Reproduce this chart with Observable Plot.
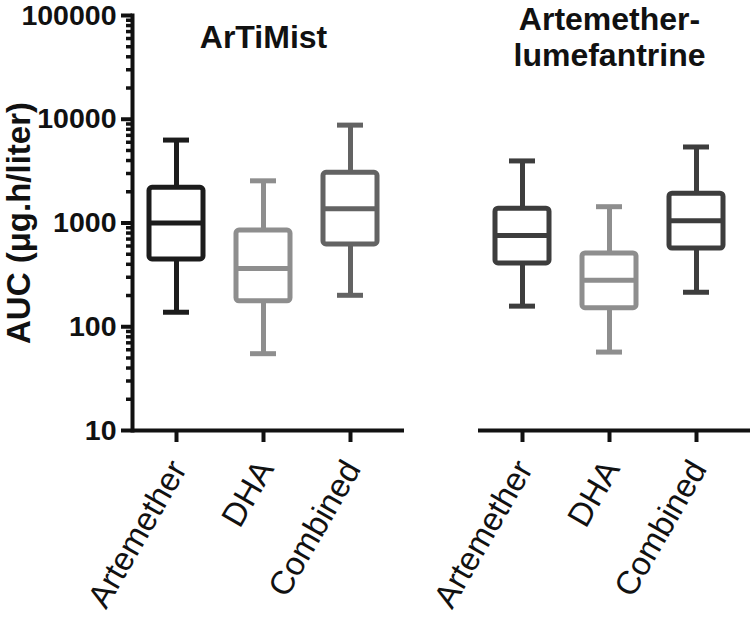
<!DOCTYPE html>
<html>
<head>
<meta charset="utf-8">
<script src="https://cdn.jsdelivr.net/npm/d3@7"></script>
<script src="https://cdn.jsdelivr.net/npm/@observablehq/plot@0.6"></script>
<style>
  html, body { margin: 0; padding: 0; background: #fff; }
  #chart { width: 750px; height: 620px; }
</style>
</head>
<body>
<div id="chart"></div>
<script>
// ---- data ----
const panels = ["ArTiMist", "Artemether-lumefantrine"];
const panelTitles = ["ArTiMist", "Artemether-\nlumefantrine"];
const analytes = ["Artemether", "DHA", "Combined"];

const boxPanel   = ["ArTiMist", "ArTiMist", "ArTiMist", "Artemether-lumefantrine", "Artemether-lumefantrine", "Artemether-lumefantrine"];
const boxAnalyte = ["Artemether", "DHA", "Combined", "Artemether", "DHA", "Combined"];
const whiskerLow  = [138, 55, 201, 158, 57, 215];
const q1          = [446, 176, 621, 408, 151, 568];
const median      = [1000, 365, 1374, 757, 280, 1054];
const q3          = [2185, 846, 3042, 1374, 509, 1914];
const whiskerHigh = [6300, 2550, 8780, 3966, 1436, 5404];
const boxColor    = ["#1c1c1c", "#8e8e8e", "#636363", "#3d3d3d", "#8e8e8e", "#3d3d3d"];

const yTicks = [10, 100, 1000, 10000, 100000];
const yLabel = "AUC (\u03bcg.h/liter)";

// ---- build table ----
const boxes = boxPanel.map((p, i) => ({
  panel: p, analyte: boxAnalyte[i],
  low: whiskerLow[i], q1: q1[i], median: median[i], q3: q3[i], high: whiskerHigh[i],
  color: boxColor[i]
}));
const titles = panels.map((p, i) => ({panel: p, title: panelTitles[i], analyte: "DHA"}));
const minorTicks = yTicks.slice(0, -1).flatMap(d => d3.range(2, 10).map(k => k * d));

const font = "'Liberation Sans', Arial, Helvetica, sans-serif";
const SW = 5;

const chart = Plot.plot({
  width: 750,
  height: 620,
  marginLeft: 131,
  marginRight: 0,
  marginTop: 15,
  marginBottom: 190,
  style: {fontFamily: font, background: "white", color: "#111"},
  fx: {domain: panels, paddingInner: 0.214, paddingOuter: 0, axis: null, label: null},
  x: {domain: analytes, paddingInner: 0.375, paddingOuter: 0.233, align: 0.4, label: null},
  y: {type: "log", domain: [10, 100000], label: null},
  marks: [
    // y axis: minor ticks, major ticks + labels, axis line
    Plot.axisY(minorTicks, {tickSize: 6, tickFormat: () => "", strokeWidth: 3.5, stroke: "#111", label: null}),
    Plot.axisY(yTicks, {tickSize: 11, tickPadding: 5, tickFormat: d => String(d), fontSize: 28.5, fontWeight: "bold", strokeWidth: 4, stroke: "#111", fill: "#111", label: null}),
    Plot.frame({anchor: "left", facetAnchor: "left", stroke: "#111", strokeWidth: 4}),
    // x axis per facet: line, ticks, rotated labels
    Plot.ruleY([10], {stroke: "#111", strokeWidth: 4}),
    Plot.axisX({tickSize: 12, tickFormat: () => "", strokeWidth: 4, stroke: "#111", label: null}),
    Plot.axisX({tickSize: 0, tickRotate: -60, tickPadding: 30, dy: 3, dx: 2, fontSize: 33, fill: "#111", label: null}),
    // whiskers
    Plot.ruleX(boxes, {fx: "panel", x: "analyte", y1: "low", y2: "q1", stroke: "color", strokeWidth: SW}),
    Plot.ruleX(boxes, {fx: "panel", x: "analyte", y1: "q3", y2: "high", stroke: "color", strokeWidth: SW}),
    Plot.tickY(boxes, {fx: "panel", x: "analyte", y: "low", stroke: "color", strokeWidth: SW, insetLeft: 14, insetRight: 14}),
    Plot.tickY(boxes, {fx: "panel", x: "analyte", y: "high", stroke: "color", strokeWidth: SW, insetLeft: 14, insetRight: 14}),
    // boxes
    Plot.barY(boxes, {fx: "panel", x: "analyte", y1: "q1", y2: "q3", fill: "white", stroke: "color", strokeWidth: SW, rx: 3}),
    Plot.tickY(boxes, {fx: "panel", x: "analyte", y: "median", stroke: "color", strokeWidth: SW}),
    // panel titles
    Plot.text(titles, {fx: "panel", x: "analyte", frameAnchor: "top", dy: 21, text: "title", fontSize: 32, fontWeight: "bold", lineAnchor: "middle", lineHeight: 1.12, fill: "#111"}),
    // y axis label
    Plot.text([yLabel], {text: d => d, frameAnchor: "left", facetAnchor: "left", dx: -113, rotate: -90, fontSize: 33, fontWeight: "bold", textAnchor: "middle", lineAnchor: "middle", fill: "#111"})
  ]
});
document.getElementById("chart").appendChild(chart);
</script>
</body>
</html>
